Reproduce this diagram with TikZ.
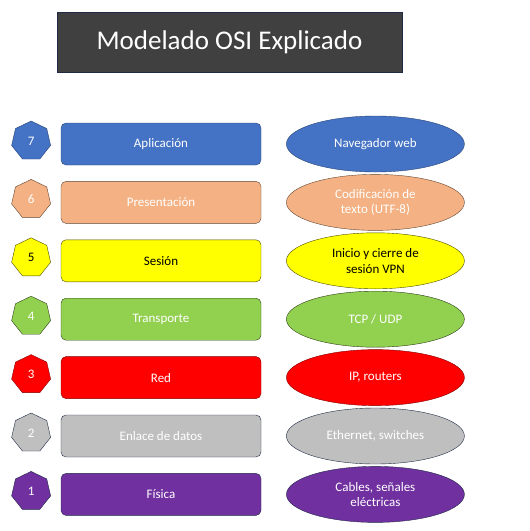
\documentclass[tikz,border=0pt]{standalone}
\usepackage{fontspec}
\setmainfont{Carlito}
\usetikzlibrary{positioning}
\usetikzlibrary{shapes}
\definecolor{titlebg}{HTML}{404040}
\definecolor{titleline}{HTML}{1F2A44}
\definecolor{cblue}{HTML}{4472C4}
\definecolor{corange}{HTML}{F4B183}
\definecolor{cyellow}{HTML}{FFFF00}
\definecolor{cgreen}{HTML}{92D050}
\definecolor{cred}{HTML}{FF0000}
\definecolor{cgray}{HTML}{BFBFBF}
\definecolor{cpurple}{HTML}{7030A0}

\begin{document}
\begin{tikzpicture}[x=1pt,y=-1pt,node distance=16pt,thin]
\tikzstyle{lstep}=[align=center,font=\fontsize{13}{15.5}\selectfont,text=white]
\tikzstyle{layer}=[lstep,draw,rounded corners=5pt,minimum width=200pt,minimum height=42pt]
\tikzstyle{num}=[lstep,draw,regular polygon,regular polygon sides=7,minimum size=40pt,inner sep=0pt,yshift=3pt]
\tikzstyle{dev}=[lstep,draw,ellipse,minimum width=178pt,minimum height=56pt,inner sep=0pt]

\useasboundingbox (0,0) rectangle (530,531);
\node[draw=titleline,fill=titlebg,text=white,minimum width=345pt,minimum height=60pt,font=\fontsize{27}{32}\selectfont] (title) at (229.5,42) {Modelado OSI Explicado};

\node[layer,fill=cblue,draw=cblue!60!black] (apl) at (161,144) {Aplicación};
\node[num,fill=cblue,draw=cblue!60!black,left=11pt of apl] (n7) {7};
\node[dev,fill=cblue,draw=cblue!60!black,right=25pt of apl] (e7) {Navegador web};

\node[layer,fill=corange,draw=corange!40!black,below=of apl] (pres) {Presentación};
\node[num,fill=corange,draw=corange!40!black,left=11pt of pres] (n6) {6};
\node[dev,fill=corange,draw=corange!40!black,right=25pt of pres] (e6) {Codificación de\\texto (UTF-8)};

\node[layer,fill=cyellow,draw=cyellow!30!black,text=black,below=of pres] (ses) {Sesión};
\node[num,fill=cyellow,draw=cyellow!30!black,text=black,left=11pt of ses] (n5) {5};
\node[dev,fill=cyellow,draw=cyellow!30!black,text=black,right=25pt of ses] (e5) {Inicio y cierre de\\sesión VPN};

\node[layer,fill=cgreen,draw=cgreen!30!black,below=of ses] (trans) {Transporte};
\node[num,fill=cgreen,draw=cgreen!30!black,left=11pt of trans] (n4) {4};
\node[dev,fill=cgreen,draw=cgreen!30!black,right=25pt of trans] (e4) {TCP / UDP};

\node[layer,fill=cred,draw=cred!50!black,below=of trans] (red) {Red};
\node[num,fill=cred,draw=cred!50!black,left=11pt of red] (n3) {3};
\node[dev,fill=cred,draw=cred!50!black,right=25pt of red] (e3) {IP, routers};

\node[layer,fill=cgray,draw=titleline,below=of red] (enl) {Enlace de datos};
\node[num,fill=cgray,draw=titleline,left=11pt of enl] (n2) {2};
\node[dev,fill=cgray,draw=titleline,right=25pt of enl] (e2) {Ethernet, switches};

\node[layer,fill=cpurple,draw=titleline,below=of enl] (fis) {Física};
\node[num,fill=cpurple,draw=titleline,left=11pt of fis] (n1) {1};
\node[dev,fill=cpurple,draw=titleline,right=25pt of fis] (e1) {Cables, señales\\eléctricas};
\end{tikzpicture}
\end{document}
